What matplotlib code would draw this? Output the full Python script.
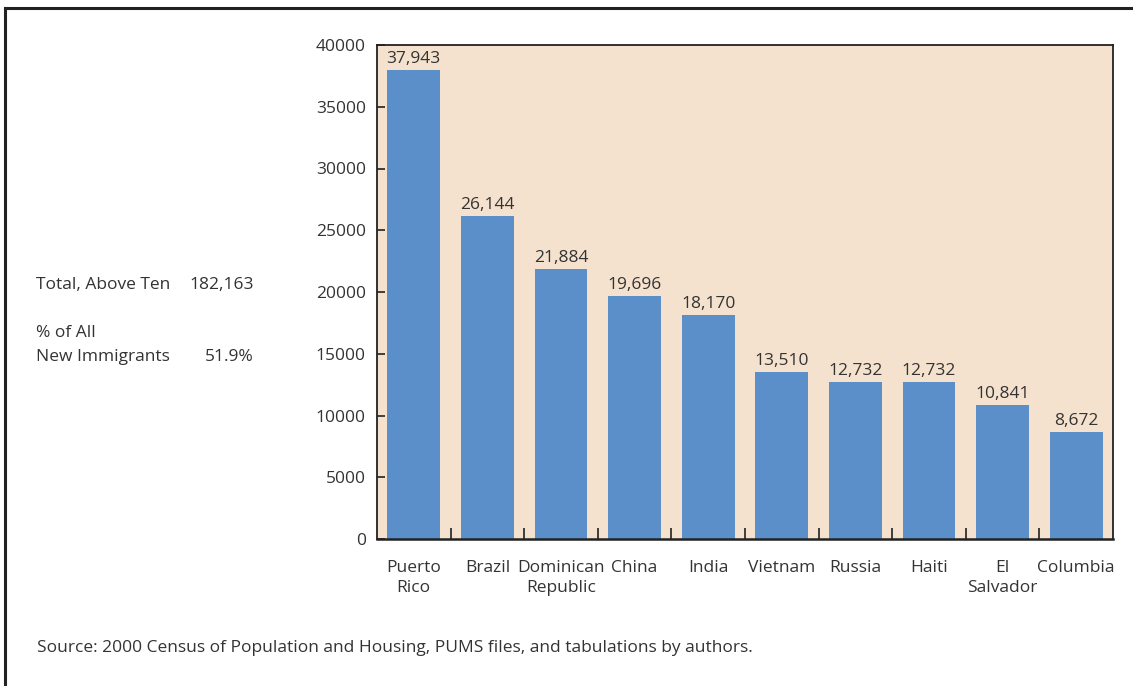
import matplotlib.pyplot as plt
from matplotlib.lines import Line2D

plt.rcParams['font.family'] = ['Open Sans', 'DejaVu Sans']

countries = ['Puerto\nRico', 'Brazil', 'Dominican\nRepublic', 'China', 'India',
             'Vietnam', 'Russia', 'Haiti', 'El\nSalvador', 'Columbia']
immigrants = [37943, 26144, 21884, 19696, 18170, 13510, 12732, 12732, 10841, 8672]
yticks = [0, 5000, 10000, 15000, 20000, 25000, 30000, 35000, 40000]

W, H = 1133, 686
fig = plt.figure(figsize=(W / 100, H / 100), dpi=100)
fig.patch.set_facecolor('white')

# frame around the figure (cut off right/bottom in the original)
fig.add_artist(Line2D([5.5 / W, 5.5 / W], [0, 1 - 8 / H], transform=fig.transFigure,
                      color='#222222', lw=2.2))
fig.add_artist(Line2D([5.5 / W, 1], [1 - 8 / H, 1 - 8 / H], transform=fig.transFigure,
                      color='#222222', lw=2.2))

ax = fig.add_axes([377 / W, 1 - 539 / H, (1113 - 377) / W, (539 - 45) / H])
ax.set_facecolor('#F5E2CE')
x = range(len(countries))
ax.bar(x, immigrants, width=0.72, color='#5B8FC9', zorder=2)
for xi, v in zip(x, immigrants):
    ax.text(xi, v + 250, f'{v:,}', ha='center', va='bottom', fontsize=12.5, color='#333333')

ax.set_xlim(-0.5, len(countries) - 0.5)
ax.set_ylim(0, 40000)
ax.set_yticks(yticks)
ax.set_yticklabels([str(t) for t in yticks], fontsize=12.5, color='#333333')
ax.set_xticks(list(x))
ax.set_xticklabels(countries, fontsize=12.5, color='#333333', linespacing=1.35)
ax.tick_params(axis='x', length=0, pad=15)
ax.set_xticks([i + 0.5 for i in range(len(countries) - 1)], minor=True)
ax.tick_params(axis='x', which='minor', direction='in', length=8, width=1.2, color='#222222')
ax.tick_params(axis='y', direction='in', length=6, width=1.2, color='#222222', pad=8)
for s in ax.spines.values():
    s.set_color('#222222')
    s.set_linewidth(1.3)
ax.spines['bottom'].set_linewidth(1.8)

txt = dict(fontsize=12.5, color='#333333', transform=fig.transFigure)
fig.text(36 / W, 1 - 285 / H, 'Total, Above Ten', ha='left', va='center', **txt)
fig.text(254 / W, 1 - 285 / H, '182,163', ha='right', va='center', **txt)
fig.text(36 / W, 1 - 333 / H, '% of All', ha='left', va='center', **txt)
fig.text(36 / W, 1 - 357 / H, 'New Immigrants', ha='left', va='center', **txt)
fig.text(254 / W, 1 - 357 / H, '51.9%', ha='right', va='center', **txt)
fig.text(37 / W, 1 - 648 / H,
         'Source: 2000 Census of Population and Housing, PUMS files, and tabulations by authors.',
         ha='left', va='center', **txt)

fig.savefig('out.png', dpi=100)
